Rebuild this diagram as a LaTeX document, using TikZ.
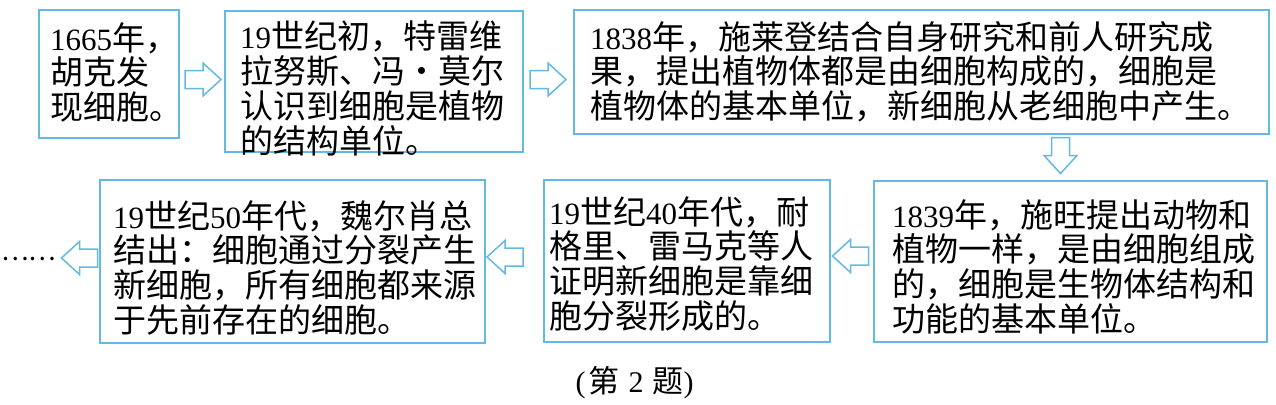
\documentclass[tikz,border=0pt]{standalone}
\usepackage{fontspec}
\setmainfont{Liberation Serif}
\newfontfamily\cjk{Noto Sans CJK SC}
\newfontfamily\lat{Liberation Serif}
\newcommand\dg[1]{{\lat\fontsize{31}{34.8}\selectfont #1}}
\usetikzlibrary{calc}
\definecolor{linecyan}{RGB}{100,185,225}
\begin{document}
\begin{tikzpicture}[x=1pt,y=-1pt,
  box/.style={draw=linecyan,line width=1.6pt,rectangle,inner sep=0pt,anchor=north west},
  txt/.style={inner sep=0pt,anchor=north west,align=left,font=\cjk\fontsize{33}{34.8}\selectfont},
  arrowline/.style={draw=linecyan,line width=1.5pt,fill=white,line join=miter},
  barrow/.pic={\draw[arrowline] (-18,-9) -- (0,-9) -- (0,-16.5) -- (18,0) -- (0,16.5) -- (0,9) -- (-18,9) -- cycle;}]
\useasboundingbox (0,0) rectangle (1276,404);
% boxes
\node[box,minimum width=140pt,minimum height=128pt] (b1) at (38,9) {};
\node[box,minimum width=298pt,minimum height=141pt] (b2) at (224,10) {};
\node[box,minimum width=695pt,minimum height=124pt] (b3) at (573,9) {};
\node[box,minimum width=393pt,minimum height=161pt] (b4) at (873,180) {};
\node[box,minimum width=286pt,minimum height=162pt] (b5) at (543,179) {};
\node[box,minimum width=385pt,minimum height=163pt] (b6) at (99,179) {};
% texts
\node[txt] (t1) at (50,22) {\dg{1665}年，\\胡克发\\现细胞。};
\node[txt] (t2) at (240,21) {\dg{19}世纪初，特雷维\\拉努斯、冯・莫尔\\认识到细胞是植物\\的结构单位。};
\node[txt] (t3) at (590,21) {\dg{1838}年，施莱登结合自身研究和前人研究成\\果，提出植物体都是由细胞构成的，细胞是\\植物体的基本单位，新细胞从老细胞中产生。};
\node[txt] (t4) at (892,199) {\dg{1839}年，施旺提出动物和\\植物一样，是由细胞组成\\的，细胞是生物体结构和\\功能的基本单位。};
\node[txt] (t5) at (549,196) {\dg{19}世纪\dg{40}年代，耐\\格里、雷马克等人\\证明新细胞是靠细\\胞分裂形成的。};
\node[txt] (t6) at (113,200) {\dg{19}世纪\dg{50}年代，魏尔肖总\\结出：细胞通过分裂产生\\新细胞，所有细胞都来源\\于先前存在的细胞。};
% arrows between boxes
\pic at (203,79.5) {barrow};
\pic at (548,79.5) {barrow};
\pic[rotate=-90] at (1060.5,155.5) {barrow};
\pic[rotate=180] at (850.5,256) {barrow};
\pic[rotate=180] at (505,257) {barrow};
\pic[rotate=180] at (79.5,258) {barrow};
% dots and caption
\node[inner sep=0pt,anchor=west,font=\cjk\fontsize{26}{30}\selectfont] (dots) at (1,259) {……};
\node[inner sep=0pt,font=\cjk\fontsize{31}{34}\selectfont] (cap) at (634.5,383) {{\lat\fontsize{30}{34}\selectfont(}\hspace{3pt}第\hspace{9pt}{\lat\fontsize{30}{34}\selectfont 2}\hspace{9pt}题{\lat\fontsize{30}{34}\selectfont)}};
\end{tikzpicture}
\end{document}
